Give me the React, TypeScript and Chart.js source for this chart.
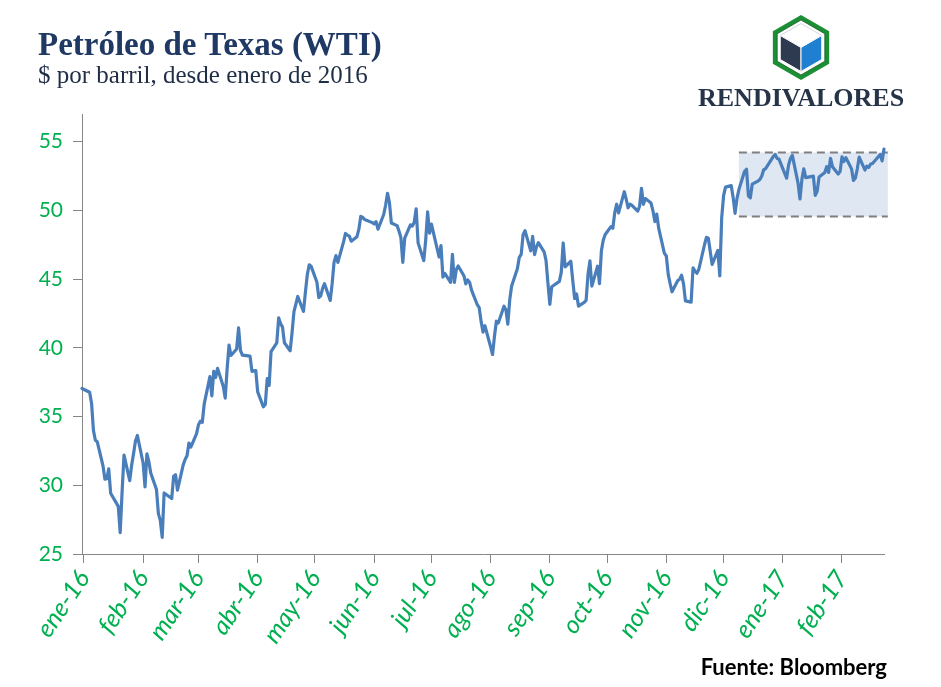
import React, { useEffect, useRef } from "react";
import { Chart, registerables } from "chart.js";

Chart.register(...registerables);

// Trading dates (ISO) and WTI closing prices ($/bbl)
const DATES = [
  "2015-12-31",
  "2016-01-04", "2016-01-05", "2016-01-06", "2016-01-07", "2016-01-08", "2016-01-11", "2016-01-12", "2016-01-13", "2016-01-14", "2016-01-15",
  "2016-01-19", "2016-01-20", "2016-01-21", "2016-01-22", "2016-01-25", "2016-01-26", "2016-01-27", "2016-01-28", "2016-01-29",
  "2016-02-01", "2016-02-02", "2016-02-03", "2016-02-04", "2016-02-05", "2016-02-08", "2016-02-09", "2016-02-10", "2016-02-11", "2016-02-12",
  "2016-02-16", "2016-02-17", "2016-02-18", "2016-02-19", "2016-02-22", "2016-02-23", "2016-02-24", "2016-02-25", "2016-02-26", "2016-02-29",
  "2016-03-01", "2016-03-02", "2016-03-03", "2016-03-04", "2016-03-07", "2016-03-08", "2016-03-09", "2016-03-10", "2016-03-11", "2016-03-14",
  "2016-03-15", "2016-03-16", "2016-03-17", "2016-03-18", "2016-03-21", "2016-03-22", "2016-03-23", "2016-03-24", "2016-03-28", "2016-03-29",
  "2016-03-30", "2016-03-31",
  "2016-04-01", "2016-04-04", "2016-04-05", "2016-04-06", "2016-04-07", "2016-04-08", "2016-04-11", "2016-04-12", "2016-04-13", "2016-04-14",
  "2016-04-15", "2016-04-18", "2016-04-19", "2016-04-20", "2016-04-21", "2016-04-22", "2016-04-25", "2016-04-26", "2016-04-27", "2016-04-28",
  "2016-04-29",
  "2016-05-02", "2016-05-03", "2016-05-04", "2016-05-05", "2016-05-06", "2016-05-09", "2016-05-10", "2016-05-11", "2016-05-12", "2016-05-13",
  "2016-05-16", "2016-05-17", "2016-05-18", "2016-05-19", "2016-05-20", "2016-05-23", "2016-05-24", "2016-05-25", "2016-05-26", "2016-05-27",
  "2016-05-31",
  "2016-06-01", "2016-06-02", "2016-06-03", "2016-06-06", "2016-06-07", "2016-06-08", "2016-06-09", "2016-06-10", "2016-06-13", "2016-06-14",
  "2016-06-15", "2016-06-16", "2016-06-17", "2016-06-20", "2016-06-21", "2016-06-22", "2016-06-23", "2016-06-24", "2016-06-27", "2016-06-28",
  "2016-06-29", "2016-06-30",
  "2016-07-01", "2016-07-05", "2016-07-06", "2016-07-07", "2016-07-08", "2016-07-11", "2016-07-12", "2016-07-13", "2016-07-14", "2016-07-15",
  "2016-07-18", "2016-07-19", "2016-07-20", "2016-07-21", "2016-07-22", "2016-07-25", "2016-07-26", "2016-07-27", "2016-07-28", "2016-07-29",
  "2016-08-01", "2016-08-02", "2016-08-03", "2016-08-04", "2016-08-05", "2016-08-08", "2016-08-09", "2016-08-10", "2016-08-11", "2016-08-12",
  "2016-08-15", "2016-08-16", "2016-08-17", "2016-08-18", "2016-08-19", "2016-08-22", "2016-08-23", "2016-08-24", "2016-08-25", "2016-08-26",
  "2016-08-29", "2016-08-30", "2016-08-31",
  "2016-09-01", "2016-09-02", "2016-09-06", "2016-09-07", "2016-09-08", "2016-09-09", "2016-09-12", "2016-09-13", "2016-09-14", "2016-09-15",
  "2016-09-16", "2016-09-19", "2016-09-20", "2016-09-21", "2016-09-22", "2016-09-23", "2016-09-26", "2016-09-27", "2016-09-28", "2016-09-29",
  "2016-09-30",
  "2016-10-03", "2016-10-04", "2016-10-05", "2016-10-06", "2016-10-07", "2016-10-10", "2016-10-11", "2016-10-12", "2016-10-13", "2016-10-14",
  "2016-10-17", "2016-10-18", "2016-10-19", "2016-10-20", "2016-10-21", "2016-10-24", "2016-10-25", "2016-10-26", "2016-10-27", "2016-10-28",
  "2016-10-31",
  "2016-11-01", "2016-11-02", "2016-11-03", "2016-11-04", "2016-11-07", "2016-11-08", "2016-11-09", "2016-11-10", "2016-11-11", "2016-11-14",
  "2016-11-15", "2016-11-16", "2016-11-17", "2016-11-18", "2016-11-21", "2016-11-22", "2016-11-23", "2016-11-25", "2016-11-28", "2016-11-29",
  "2016-11-30",
  "2016-12-01", "2016-12-02", "2016-12-05", "2016-12-06", "2016-12-07", "2016-12-08", "2016-12-09", "2016-12-12", "2016-12-13", "2016-12-14",
  "2016-12-15", "2016-12-16", "2016-12-19", "2016-12-20", "2016-12-21", "2016-12-22", "2016-12-23", "2016-12-27", "2016-12-28", "2016-12-29",
  "2016-12-30",
  "2017-01-03", "2017-01-04", "2017-01-05", "2017-01-06", "2017-01-09", "2017-01-10", "2017-01-11", "2017-01-12", "2017-01-13", "2017-01-17",
  "2017-01-18", "2017-01-19", "2017-01-20", "2017-01-23", "2017-01-24", "2017-01-25", "2017-01-26", "2017-01-27", "2017-01-30", "2017-01-31",
  "2017-02-01", "2017-02-02", "2017-02-03", "2017-02-06", "2017-02-07", "2017-02-08", "2017-02-09", "2017-02-10", "2017-02-13", "2017-02-14",
  "2017-02-15", "2017-02-16", "2017-02-17", "2017-02-21", "2017-02-22", "2017-02-23",
];

const WTI = [
  37.04,
  36.76, 35.97, 33.97, 33.27, 33.16, 31.41, 30.44, 30.48, 31.2, 29.42,
  28.46, 26.55, 29.53, 32.19, 30.34, 31.45, 32.3, 33.22, 33.62,
  31.62, 29.88, 32.28, 31.72, 30.89, 29.69, 27.94, 27.45, 26.21, 29.44,
  29.04, 30.66, 30.77, 29.64, 31.48, 31.87, 32.15, 33.07, 32.78, 33.75,
  34.4, 34.66, 34.57, 35.92, 37.9, 36.5, 38.29, 37.84, 38.5, 37.18,
  36.34, 38.46, 40.2, 39.44, 39.91, 41.45, 39.79, 39.46, 39.39, 38.28,
  38.32, 38.34,
  36.79, 35.7, 35.89, 37.75, 37.26, 39.72, 40.36, 42.17, 41.76, 41.5,
  40.36, 39.78, 41.08, 42.63, 43.18, 43.73, 42.64, 44.04, 45.33, 46.03,
  45.92,
  44.78, 43.65, 43.78, 44.32, 44.66, 43.44, 44.66, 46.23, 46.7, 46.21,
  47.72, 48.31, 48.19, 48.12, 47.75, 48.08, 48.62, 49.56, 49.48, 49.33,
  49.1,
  49.01, 49.17, 48.62, 49.69, 50.36, 51.23, 50.56, 49.07, 48.88, 48.49,
  48.01, 46.21, 47.98, 48.94, 48.85, 49.13, 50.11, 47.64, 46.33, 47.85,
  49.88, 48.33,
  48.99, 46.6, 47.43, 45.14, 45.41, 44.76, 46.8, 44.75, 45.68, 45.95,
  45.24, 44.65, 44.94, 44.75, 44.19, 43.13, 42.92, 41.92, 41.14, 41.6,
  40.06, 39.51, 40.83, 41.93, 41.8, 43.02, 42.77, 41.71, 43.49, 44.49,
  45.74, 46.58, 46.79, 48.22, 48.52, 47.05, 48.1, 46.77, 47.33, 47.64,
  46.98, 46.35, 44.7,
  43.16, 44.44, 44.83, 45.5, 47.62, 45.88, 46.29, 44.9, 43.58, 43.91,
  43.03, 43.3, 43.44, 45.34, 46.32, 44.48, 45.93, 44.67, 47.05, 47.83,
  48.24,
  48.81, 48.69, 49.83, 50.44, 49.81, 51.35, 50.79, 50.18, 50.44, 50.35,
  49.94, 50.29, 51.6, 50.43, 50.85, 50.52, 49.96, 49.18, 49.72, 48.7,
  46.86,
  46.67, 45.34, 44.66, 44.07, 44.89, 44.98, 45.27, 44.66, 43.41, 43.32,
  45.81, 45.57, 45.42, 45.69, 47.49, 48.03, 47.96, 46.06, 47.08, 45.23,
  49.44,
  51.06, 51.68, 51.79, 50.93, 49.77, 50.84, 51.5, 52.83, 52.98, 51.04,
  50.9, 51.9, 52.12, 52.23, 52.49, 52.95, 53.02, 53.9, 54.06, 53.77,
  53.72,
  52.33, 53.26, 53.76, 53.99, 51.96, 50.82, 52.25, 53.01, 52.37, 52.48,
  51.08, 51.37, 52.42, 52.75, 53.18, 52.75, 53.78, 53.17, 52.63, 52.81,
  53.88, 53.54, 53.83, 53.01, 52.17, 52.34, 53.0, 53.86, 52.93, 53.2,
  53.11, 53.36, 53.4, 54.06, 53.59, 54.45,
];

const MONTH_TICKS = [
  "2016-01-01", "2016-02-01", "2016-03-01", "2016-04-01", "2016-05-01", "2016-06-01", "2016-07-01",
  "2016-08-01", "2016-09-01", "2016-10-01", "2016-11-01", "2016-12-01", "2017-01-01", "2017-02-01",
];
const MONTH_LABELS = [
  "ene-16", "feb-16", "mar-16", "abr-16", "may-16", "jun-16", "jul-16",
  "ago-16", "sep-16", "oct-16", "nov-16", "dic-16", "ene-17", "feb-17",
];
const Y_TICKS = [25, 30, 35, 40, 45, 50, 55];
const Y_MIN = 25;
const Y_MAX = 57;
const X_START = "2015-12-31";
const X_END = "2017-02-23";

// Highlighted range (recent trading band)
const BAND_FROM = "2016-12-09";
const BAND_TO = "2017-02-25";
const BAND_LOW = 49.55;
const BAND_HIGH = 54.2;

const TITLE = "Petróleo de Texas (WTI)";
const SUBTITLE = "$ por barril, desde enero de 2016";
const SOURCE = "Fuente: Bloomberg";
const BRAND = "RENDIVALORES";

const BASE = Date.UTC(2016, 0, 1);
function dayIndex(iso: string): number {
  const [y, m, d] = iso.split("-").map(Number);
  return (Date.UTC(y, m - 1, d) - BASE) / 86400000;
}

const bandPlugin = {
  id: "bandBox",
  beforeDatasetsDraw(chart: any) {
    const { ctx, scales } = chart;
    const x = scales.x;
    const y = scales.y;
    const x0 = x.getPixelForValue(dayIndex(BAND_FROM));
    const x1 = x.getPixelForValue(dayIndex(BAND_TO));
    const yT = y.getPixelForValue(BAND_HIGH);
    const yB = y.getPixelForValue(BAND_LOW);
    ctx.save();
    ctx.fillStyle = "#dfe7f2";
    ctx.fillRect(x0, yT, x1 - x0, yB - yT);
    ctx.strokeStyle = "#7f7f7f";
    ctx.lineWidth = 2;
    ctx.setLineDash([8, 5]);
    ctx.beginPath();
    ctx.moveTo(x0, yT);
    ctx.lineTo(x1, yT);
    ctx.moveTo(x0, yB);
    ctx.lineTo(x1, yB);
    ctx.stroke();
    ctx.restore();
  },
};

export default function App() {
  const canvasRef = useRef<HTMLCanvasElement | null>(null);

  useEffect(() => {
    if (!canvasRef.current) return;
    const points = DATES.map((d, i) => ({ x: dayIndex(d), y: WTI[i] }));
    const axisColor = "#868686";
    const chart = new Chart(canvasRef.current, {
      type: "line",
      data: {
        datasets: [
          {
            data: points,
            borderColor: "#4a7ebb",
            borderWidth: 3.2,
            pointRadius: 0,
            tension: 0,
            borderJoinStyle: "round",
            borderCapStyle: "round",
            clip: 4,
          } as any,
        ],
      },
      options: {
        animation: false,
        responsive: false,
        maintainAspectRatio: false,
        layout: { padding: { left: 0, right: 57, top: 114, bottom: 0 } },
        plugins: { legend: { display: false }, tooltip: { enabled: false } },
        scales: {
          x: {
            type: "linear",
            min: dayIndex(X_START),
            max: dayIndex(X_END),
            afterBuildTicks: (s: any) => {
              s.ticks = MONTH_TICKS.map((d) => ({ value: dayIndex(d) }));
            },
            afterFit: (s: any) => {
              s.height = 133;
            },
            ticks: {
              autoSkip: false,
              minRotation: 56,
              maxRotation: 56,
              color: "#00b050",
              padding: 2,
              font: { family: "Lato", size: 25, style: "italic" },
              callback: (_v: any, i: number) => MONTH_LABELS[i],
            },
            grid: { drawOnChartArea: false, drawTicks: true, tickLength: 9, color: axisColor },
            border: { color: axisColor, width: 1 },
          },
          y: {
            min: Y_MIN,
            max: Y_MAX,
            afterBuildTicks: (s: any) => {
              s.ticks = Y_TICKS.map((v) => ({ value: v }));
            },
            afterFit: (s: any) => {
              s.width = 82;
            },
            ticks: {
              color: "#00b050",
              padding: 10,
              font: { family: "Lato", size: 21 },
            },
            grid: { drawOnChartArea: false, drawTicks: true, tickLength: 9, color: axisColor },
            border: { color: axisColor, width: 1 },
          },
        },
      } as any,
      plugins: [bandPlugin],
    });
    return () => chart.destroy();
  }, []);

  // Logo geometry (pointy-top hexagons)
  const cx = 801;
  const cy = 47.5;
  const hex = (r: number) =>
    [0, 1, 2, 3, 4, 5]
      .map((k) => {
        const a = (Math.PI / 3) * k - Math.PI / 2;
        return `${(cx + r * Math.cos(a)).toFixed(2)},${(cy + r * Math.sin(a)).toFixed(2)}`;
      })
      .join(" ");
  const rc = 24;
  const hw = rc * Math.cos(Math.PI / 6);
  const top = [cx, cy - rc];
  const ur = [cx + hw, cy - rc / 2];
  const lr = [cx + hw, cy + rc / 2];
  const bot = [cx, cy + rc];
  const ll = [cx - hw, cy + rc / 2];
  const ul = [cx - hw, cy - rc / 2];
  const pts = (a: number[][]) => a.map((p) => `${p[0].toFixed(2)},${p[1].toFixed(2)}`).join(" ");
  const c = [cx, cy];

  return (
    <div style={{ position: "absolute", left: 0, top: 0, width: 941, height: 687, background: "#ffffff", overflow: "hidden" }}>
      <canvas ref={canvasRef} width={941} height={687} style={{ position: "absolute", left: 0, top: 0, width: 941, height: 687 }} />
      <svg width={941} height={687} style={{ position: "absolute", left: 0, top: 0, pointerEvents: "none" }}>
        <text x={38} y={55} fontFamily="'Liberation Serif', serif" fontWeight="bold" fontSize={33} fill="#1f3864">
          {TITLE}
        </text>
        <text x={38} y={83} fontFamily="'Liberation Serif', serif" fontSize={25} fill="#1f2d45">
          {SUBTITLE}
        </text>
        <polygon points={hex(32.5)} fill="#1b8f34" />
        <polygon points={hex(27.5)} fill="#ffffff" stroke="#145c25" strokeWidth={0.8} />
        <polygon points={pts([top, ur, c, ul])} fill="#ffffff" stroke="#c9ced6" strokeWidth={0.8} />
        <polygon points={pts([ul, c, bot, ll])} fill="#2d3a50" stroke="#ffffff" strokeWidth={1} />
        <polygon points={pts([c, ur, lr, bot])} fill="#1f7fd1" stroke="#ffffff" strokeWidth={1} />
        <text x={698} y={106} fontFamily="'Liberation Serif', serif" fontWeight="bold" fontSize={26} fill="#253448">
          {BRAND}
        </text>
        <text x={887} y={675} textAnchor="end" fontFamily="Lato, sans-serif" fontWeight="bold" fontSize={22} fill="#000000">
          {SOURCE}
        </text>
      </svg>
    </div>
  );
}
